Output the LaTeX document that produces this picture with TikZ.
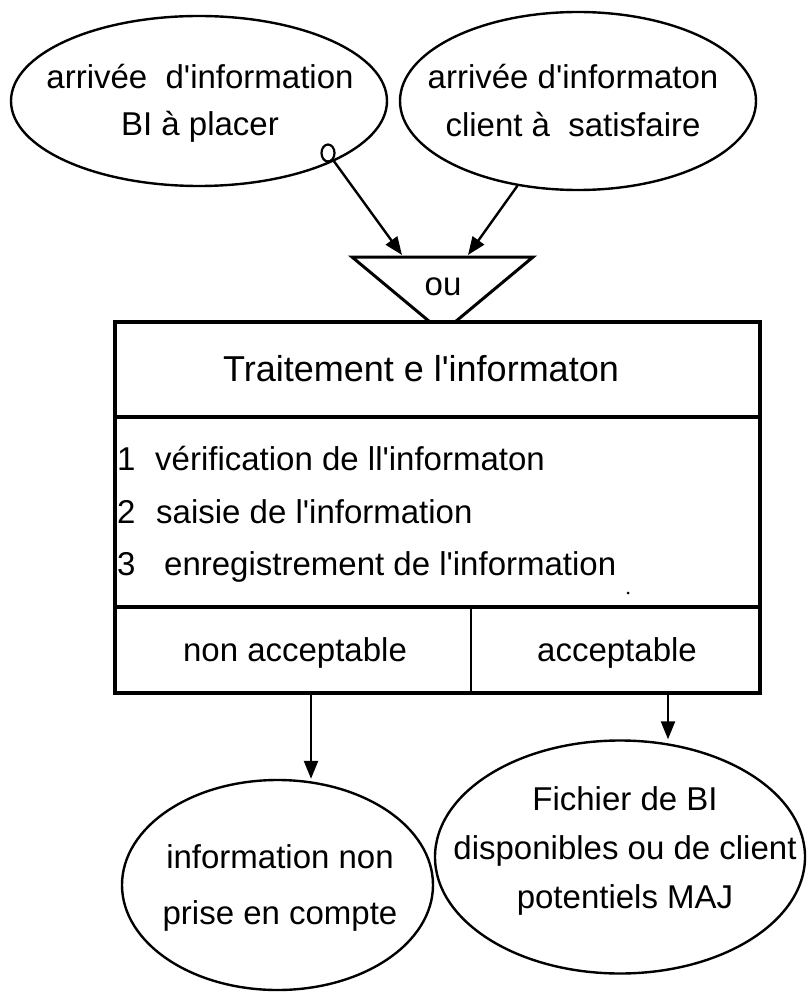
\documentclass[tikz,border=0pt]{standalone}
\usepackage{fontspec}
\setmainfont{Liberation Sans}[Ligatures=TeXOff]
\usetikzlibrary{shapes.geometric,arrows.meta}
\begin{document}
\begin{tikzpicture}[x=1pt,y=-1pt,
  txt/.style={font=\fontsize{33}{47}\selectfont, align=center, inner sep=0pt},
  oval/.style={ellipse, draw, line width=2.4pt, inner sep=0pt},
  arr/.style={line width=2.4pt, -{Triangle[length=18pt,width=14pt]}},
  frame/.style={line width=3.5pt},
]
\useasboundingbox (0,0) rectangle (807,992);
\fill[white] (0,0) rectangle (807,992);

% incoming events
\node[oval, minimum width=376pt, minimum height=170pt] (e1) at (199,101) {};
\node[txt] (t1) at (200,103.5) {arrivée\ \ d'information\\BI à placer};
\node[oval, minimum width=356pt, minimum height=178pt] (e2) at (578,101) {};
\node[txt, font=\fontsize{33}{48}\selectfont] (t2) at (573,101) {arrivée d'informaton\\client à\ \ satisfaire};
\node[ellipse, draw, fill=white, line width=2.2pt, inner sep=0pt,
      minimum width=13pt, minimum height=17pt] (knob) at (328,153) {};

% "ou" synchronisation
\coordinate (p1) at (402,255);
\coordinate (p2) at (468,255);
\draw[line width=3pt, line join=miter] (430,322) -- (352,257) -- (533,257) -- (455,322);
\node[txt] (ou) at (443,287) {ou};
\draw[arr] (knob) -- (p1);
\draw[arr] (e2) -- (p2);

% operation box
\draw[frame] (115,322) rectangle (760,693);
\draw[frame] (115,417) -- (760,417);
\draw[frame] (115,607) -- (760,607);
\draw[line width=2.5pt] (471,607) -- (471,693);
\node[txt, font=\fontsize{36}{40}\selectfont] (title) at (421,368.4) {Traitement e l'informaton};
\node[txt, align=left, anchor=west, font=\fontsize{33}{52.5}\selectfont] (steps) at (117,514.5)
  {\makebox[38pt][l]{1}vérification de ll'informaton\\
   \makebox[39pt][l]{2}saisie de l'information\\
   \makebox[47pt][l]{3}enregistrement de l'information};
\fill (628,593) circle (1.5);
\node[txt] (nacc) at (295,653) {non acceptable};
\node[txt] (acc) at (617,653) {acceptable};

% results
\node[oval, minimum width=311pt, minimum height=210pt] (e3) at (277.5,885) {};
\node[txt, font=\fontsize{33}{56}\selectfont] (t3) at (280,888) {information non\\prise en compte};
\node[oval, minimum width=370pt, minimum height=233pt] (e4) at (620,857) {};
\node[txt, font=\fontsize{33}{49}\selectfont] (t4) at (625,851) {Fichier de BI\\disponibles ou de client\\potentiels MAJ};

\coordinate (a1) at (311,693);
\coordinate (a2) at (668,693);
\draw[arr] (a1) -- (a1 |- e3.north);
\draw[arr] (a2) -- (a2 |- e4.north);
\end{tikzpicture}
\end{document}
